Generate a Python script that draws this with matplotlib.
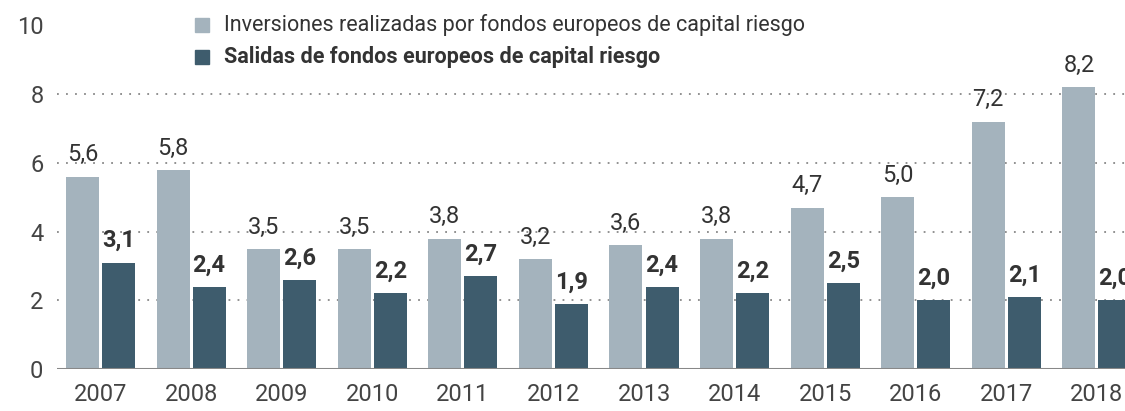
import matplotlib
matplotlib.use("Agg")
import matplotlib.pyplot as plt
import numpy as np
from matplotlib import font_manager

years = ["2007", "2008", "2009", "2010", "2011", "2012", "2013", "2014", "2015", "2016", "2017", "2018"]
inversiones = [5.6, 5.8, 3.5, 3.5, 3.8, 3.2, 3.6, 3.8, 4.7, 5.0, 7.2, 8.2]
salidas = [3.1, 2.4, 2.6, 2.2, 2.7, 1.9, 2.4, 2.2, 2.5, 2.0, 2.1, 2.0]
label_inv = "Inversiones realizadas por fondos europeos de capital riesgo"
label_sal = "Salidas de fondos europeos de capital riesgo"
yticks = [0, 2, 4, 6, 8, 10]

names = {f.name for f in font_manager.fontManager.ttflist}
fam = "Liberation Sans Narrow" if "Liberation Sans Narrow" in names else "Roboto"
plt.rcParams['font.family'] = [fam, 'DejaVu Sans']

c_light = "#a4b3bd"
c_dark = "#3e5c6d"
c_text = "#333333"

fig = plt.figure(figsize=(11.25, 4.11), dpi=100)
ax = fig.add_axes([0.0507, 0.102, 0.9493, 0.836])

x = np.arange(len(years))
w = 0.364
off = 0.199
ax.bar(x - off, inversiones, w, color=c_light, zorder=2)
ax.bar(x + off, salidas, w, color=c_dark, zorder=2)

for xi, v in zip(x, inversiones):
    ax.text(xi - off, v + 0.3, f"{v:.1f}".replace(".", ","), ha="center", va="bottom",
            fontsize=17, color=c_text, zorder=3)
for xi, v in zip(x, salidas):
    ax.text(xi + off, v + 0.3, f"{v:.1f}".replace(".", ","), ha="center", va="bottom",
            fontsize=17, fontweight="bold", color=c_text, zorder=3)

for g in [2, 4, 6, 8]:
    ax.axhline(g, color="#888888", linestyle=(0, (1, 4)), linewidth=1.3, zorder=1)
ax.axhline(0, color="#888888", linewidth=2.2, zorder=3)

ax.set_xlim(-0.48, 11.31)
ax.set_ylim(0, 10)
ax.set_yticks(yticks)
ax.set_yticklabels([str(t) for t in yticks])
ax.set_xticks(x)
ax.set_xticklabels(years)
ax.tick_params(axis="both", length=0, labelsize=17, colors="#444444")
ax.tick_params(axis="x", pad=10)
ax.tick_params(axis="y", pad=16)
for s in ax.spines.values():
    s.set_visible(False)

# legend
fig.patches.append(plt.Rectangle((195 / 1125, 1 - 32 / 411), 14 / 1125, 14 / 411,
                                 transform=fig.transFigure, color=c_light))
fig.patches.append(plt.Rectangle((195 / 1125, 1 - 64 / 411), 14 / 1125, 14 / 411,
                                 transform=fig.transFigure, color=c_dark))
fig.text(224 / 1125, 1 - 25 / 411, label_inv, fontsize=15.5, color=c_text, va="center", ha="left")
fig.text(224 / 1125, 1 - 57 / 411, label_sal, fontsize=15.5, fontweight="bold", color=c_text,
         va="center", ha="left")

for lab in ax.get_yticklabels():
    lab.set_horizontalalignment("right")
ax.yaxis.set_tick_params(pad=17)
fig.canvas.draw()
# shift y tick labels so their right edge sits at about x=40 px
import matplotlib.transforms as mtransforms
shift = mtransforms.ScaledTranslation(10 / 100, 0, fig.dpi_scale_trans)
for lab in ax.get_yticklabels():
    lab.set_transform(lab.get_transform() + shift)

fig.savefig("out.png", dpi=100)
